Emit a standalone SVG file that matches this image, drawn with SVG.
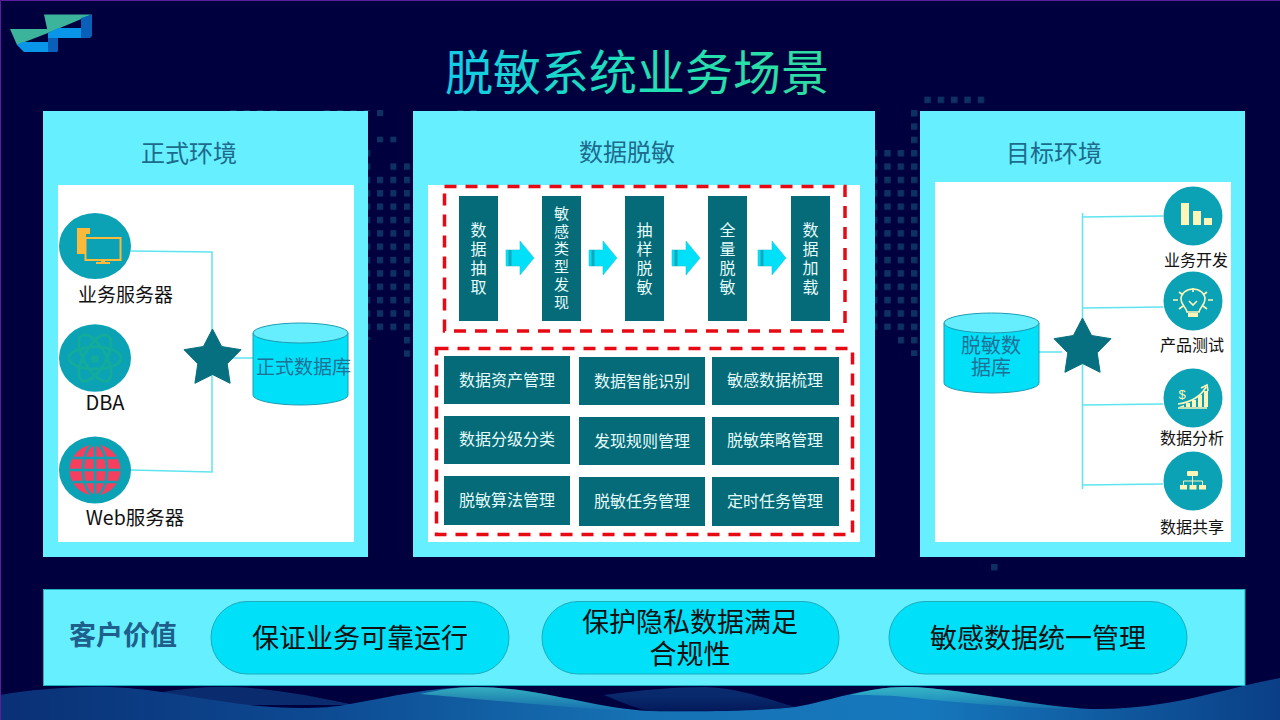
<svg xmlns="http://www.w3.org/2000/svg" width="1280" height="720" viewBox="0 0 1280 720">
<style>
text{font-family:"Noto Sans CJK SC","Liberation Sans",sans-serif;text-anchor:middle}
.panel{fill:#66f0ff}
.inner{fill:#fff}
.head{font-size:24px;fill:#1d6a8c}
.box{fill:#056b78}
.bt{font-size:16px;fill:#e4fbfb}
.vt{font-size:16px;fill:#e4fbfb;writing-mode:vertical-rl;letter-spacing:3px}
.dash{fill:none;stroke:#e60a14;stroke-width:3.5;stroke-dasharray:12 9}
.conn{fill:none;stroke:#5fe4ef;stroke-width:1.5}
.circ{fill:#0aa2b4}
.star{fill:#067080}
.cyl{fill:#00e0f8;stroke:#1c9cb0;stroke-width:1}
.cyltop{fill:#66eeff;stroke:#1c9cb0;stroke-width:1}
.dbt{font-size:19px;fill:#1f7096}
.lab{font-size:19px;fill:#111}
.lab2{font-size:16px;fill:#111}
.pill{fill:#00e0f8;stroke:#1cacbc;stroke-width:1}
.pt{font-size:27px;fill:#111}
.ic{fill:#fdf6b8}
.icl{fill:none;stroke:#fdf6b8;stroke-width:1.6}
</style>
<defs>
<linearGradient id="tg" gradientUnits="userSpaceOnUse" x1="445" y1="0" x2="830" y2="0"><stop offset="0" stop-color="#12cce8"/><stop offset=".5" stop-color="#1fe0b4"/><stop offset="1" stop-color="#30dca0"/></linearGradient>
<linearGradient id="w1" x1="0" y1="0" x2="1" y2="0"><stop offset="0" stop-color="#0a3076"/><stop offset=".25" stop-color="#0d4a92"/><stop offset=".5" stop-color="#1672b4"/><stop offset=".72" stop-color="#1678bc"/><stop offset="1" stop-color="#0a3f86"/></linearGradient>
<linearGradient id="w2" gradientUnits="userSpaceOnUse" x1="0" y1="686" x2="0" y2="712"><stop offset="0" stop-color="#3ec8c8" stop-opacity=".8"/><stop offset="1" stop-color="#3ec8c8" stop-opacity="0"/></linearGradient>
<linearGradient id="w3" gradientUnits="userSpaceOnUse" x1="0" y1="686" x2="0" y2="712"><stop offset="0" stop-color="#0a2c6e"/><stop offset="1" stop-color="#0c4a90" stop-opacity=".3"/></linearGradient>
<pattern id="dots" patternUnits="userSpaceOnUse" x="377" y="110" width="13.35" height="13.35"><rect width="6.4" height="6.4" fill="#0d3262"/></pattern>
<polygon id="st" points="0,-30 9.1,-12.5 28.5,-9.3 14.7,4.8 17.6,24.3 0,15.5 -17.6,24.3 -14.7,4.8 -28.5,-9.3 -9.1,-12.5" stroke="#067080" stroke-width="1" stroke-linejoin="round"/>
<polygon id="ar" points="0,9 14,9 14,0 28,17 14,34 14,25 0,25" fill="#00e0f8" stroke="#25c4d4" stroke-width=".6"/>
</defs>

<rect width="1280" height="720" fill="#00003f"/>

<g id="dot-grid" fill="url(#dots)">
<rect x="360" y="150" width="14" height="190"/>
<rect x="377" y="110" width="6.4" height="6.4"/>
<rect x="377" y="136" width="6.4" height="6.4"/>
<rect x="377" y="176" width="6.4" height="155"/>
<rect x="390" y="136" width="6.4" height="6.4"/>
<rect x="390" y="163" width="6.4" height="168"/>
<rect x="404" y="163" width="6.4" height="194"/>
<rect x="873" y="150" width="34" height="180"/>
<rect x="898" y="330" width="9" height="14"/>
<rect x="911" y="110" width="7" height="246"/>
<rect x="923" y="96" width="64" height="8"/>
<rect x="230" y="110" width="50" height="1"/>
<rect x="323" y="110" width="60" height="1"/>
<rect x="455" y="110" width="24" height="1"/>
<rect x="991" y="564" width="8" height="8"/>
</g>

<g id="waves">
<path d="M150 694C180 689 205 686 235 687C280 689 320 698 355 705H150Z" fill="#0a2c6e"/>
<path d="M0 695C30 690 70 686 110 687C170 689 230 708 300 708C320 708 335 707 350 704C390 697 430 687 475 687C540 687 590 708 650 711C700 712 760 711 795 707C830 701 865 687 905 687C960 687 1040 709 1101 709C1170 709 1230 687 1280 678V720H0Z" fill="url(#w1)"/>
<path d="M420 694C440 690 455 687 475 687C540 687 590 708 650 711C600 711 540 704 475 699C455 697 435 695 420 694ZM850 695C870 690 885 687 905 687C960 687 1040 709 1101 709C1040 710 960 703 905 697C885 695 865 695 850 695Z" fill="url(#w2)"/>
<path d="M604 695C640 690 675 687 705 687C740 688 770 700 795 707C750 712 700 712 650 711C635 708 620 702 604 695Z" fill="url(#w3)"/>
</g>

<g id="logo">
<polygon points="48,38 58,38 58,51 57,52 48,52" fill="#0a60b8"/>
<polygon points="44,14.5 92,14.5 48,33" fill="#3cb49c"/>
<polygon points="48,33 58,28 81,28 81,38 48,38" fill="#0a96e8"/>
<polygon points="81,18 92,14.5 92,36 90,38 81,38" fill="#0a60b8"/>
<polygon points="10,29 48,29 48,33 17,45" fill="#3cb49c"/>
<polygon points="17,45 22,42 48,42 48,52 24,52" fill="#0a96e8"/>
</g>

<text id="title" x="637" y="90" font-size="48" fill="url(#tg)">脱敏系统业务场景</text>

<g id="panel-source">
<rect class="panel" x="43" y="111" width="325" height="446"/>
<rect class="inner" x="58" y="185" width="296" height="357"/>
<text class="head" x="189" y="162">正式环境</text>
</g>
<g id="panel-mask">
<rect class="panel" x="413" y="111" width="462" height="446"/>
<rect class="inner" x="428" y="185" width="432" height="357"/>
<text class="head" x="627" y="161">数据脱敏</text>
</g>
<g id="panel-target">
<rect class="panel" x="920" y="111" width="325" height="446"/>
<rect class="inner" x="935" y="182" width="296" height="360"/>
<text class="head" x="1054" y="162">目标环境</text>
</g>

<g id="connectors">
<path class="conn" d="M131 251L212 252V340M131 470L212 472V370M232 358H253"/>
<path class="conn" d="M1039 352H1062M1082.500 213V489M1083 217L1163 216M1083 308L1163 307M1083 405L1163 404M1083 485L1163 484"/>
</g>

<g id="srv-business">
<ellipse class="circ" cx="95" cy="246" rx="36" ry="33"/>
<path d="M77 228H90V234H86V254H77Z" fill="#fdb93a"/>
<rect x="85.500" y="238" width="35" height="22" fill="#0aa2b4" stroke="#fdb93a" stroke-width="2"/>
<rect x="96" y="262" width="14" height="2" fill="#fdb93a"/><rect x="101" y="260" width="4" height="3" fill="#fdb93a"/>
<text class="lab" x="125.500" y="302">业务服务器</text>
</g>
<g id="srv-dba">
<ellipse class="circ" cx="95" cy="358" rx="36" ry="33.700"/>
<g fill="none" stroke="#12ab9c" stroke-width="3"><ellipse cx="95" cy="358" rx="26" ry="11"/><ellipse cx="95" cy="358" rx="26" ry="11" transform="rotate(60 95 358)"/><ellipse cx="95" cy="358" rx="26" ry="11" transform="rotate(120 95 358)"/></g>
<circle cx="95" cy="359" r="4" fill="#12ab9c"/>
<text class="lab" x="105" y="410" style="font-size:20px">DBA</text>
</g>
<g id="srv-web">
<ellipse class="circ" cx="95" cy="470" rx="36" ry="33.500"/>
<circle cx="95" cy="470" r="25.500" fill="#f4405e"/>
<g fill="none" stroke="#0aa2b4" stroke-width="2.400"><ellipse cx="95" cy="470" rx="12" ry="25.500"/><path d="M95 444V496M70 470H120M73 458H117M73 482H117"/></g>
<text class="lab" x="135" y="525" style="font-size:19.500px">Web服务器</text>
</g>

<use id="hub-source" href="#st" class="star" x="212.500" y="359"/>

<g id="db-source">
<path class="cyl" d="M253 333V395A47.500 10 0 0 0 348 395V333Z"/>
<ellipse class="cyltop" cx="300.500" cy="333" rx="47.500" ry="10"/>
<text class="dbt" x="303.500" y="374">正式数据库</text>
</g>

<g id="flow-1"><rect class="box" x="459" y="196" width="39" height="125"/><text class="vt" x="478.500" y="260">数据抽取</text></g>
<g id="flow-2"><rect class="box" x="542" y="196" width="39" height="125"/><text class="vt" x="561.500" y="259" style="font-size:15px;letter-spacing:2.800px">敏感类型发现</text></g>
<g id="flow-3"><rect class="box" x="625" y="196" width="39" height="125"/><text class="vt" x="644.500" y="260">抽样脱敏</text></g>
<g id="flow-4"><rect class="box" x="708" y="196" width="39" height="125"/><text class="vt" x="727.500" y="260">全量脱敏</text></g>
<g id="flow-5"><rect class="box" x="791" y="196" width="39" height="125"/><text class="vt" x="810.500" y="260">数据加载</text></g>

<g id="flow-arrows">
<use href="#ar" x="506" y="241"/><use href="#ar" x="589" y="241"/><use href="#ar" x="672" y="241"/><use href="#ar" x="758" y="241"/>
<path d="M510 250V266M593 250V266M676 250V266M762 250V266" stroke="#14a8bc" stroke-width="3" fill="none"/>
</g>

<rect id="frame-flow" class="dash" x="444.500" y="186.500" width="400.500" height="144.500"/>
<rect id="frame-func" class="dash" x="436.500" y="348.500" width="416" height="186"/>

<g id="f11"><rect class="box" x="444" y="356" width="126" height="48"/><text class="bt" x="507" y="386">数据资产管理</text></g>
<g id="f12"><rect class="box" x="579" y="357" width="126" height="48"/><text class="bt" x="642" y="387">数据智能识别</text></g>
<g id="f13"><rect class="box" x="712" y="357" width="127" height="48"/><text class="bt" x="775" y="386">敏感数据梳理</text></g>
<g id="f21"><rect class="box" x="444" y="416" width="126" height="48"/><text class="bt" x="507" y="445">数据分级分类</text></g>
<g id="f22"><rect class="box" x="579" y="417" width="126" height="48"/><text class="bt" x="642" y="447">发现规则管理</text></g>
<g id="f23"><rect class="box" x="712" y="417" width="127" height="48"/><text class="bt" x="775" y="446">脱敏策略管理</text></g>
<g id="f31"><rect class="box" x="444" y="476" width="126" height="49"/><text class="bt" x="507" y="506">脱敏算法管理</text></g>
<g id="f32"><rect class="box" x="579" y="477" width="126" height="49"/><text class="bt" x="642" y="507">脱敏任务管理</text></g>
<g id="f33"><rect class="box" x="712" y="477" width="127" height="49"/><text class="bt" x="775" y="507">定时任务管理</text></g>

<g id="db-target">
<path class="cyl" d="M944 323V383A47.500 10 0 0 0 1039 383V323Z"/>
<ellipse class="cyltop" cx="991.500" cy="323" rx="47.500" ry="10"/>
<text class="dbt" y="353" style="font-size:20px"><tspan x="991">脱敏数</tspan><tspan x="991" dy="22">据库</tspan></text>
</g>
<use id="hub-target" href="#st" class="star" x="1082.500" y="348"/>

<g id="app-dev">
<circle class="circ" cx="1193" cy="216" r="29.500"/>
<rect class="ic" x="1181" y="203" width="8" height="22"/><rect class="ic" x="1193" y="211" width="8" height="14"/><rect class="ic" x="1204" y="218" width="8" height="7"/>
<text class="lab2" x="1196" y="266">业务开发</text>
</g>
<g id="app-test">
<circle class="circ" cx="1193" cy="301" r="29.500"/>
<path class="icl" d="M1187 312C1186 307 1181 305 1181 299A12 10 0 0 1 1205 299C1205 305 1200 307 1199 312Z"/>
<rect class="ic" x="1188" y="313" width="10" height="4"/>
<path class="icl" d="M1193 288V292M1173 300H1178M1208 300H1213M1179 292L1183 295M1207 292L1203 295M1179 309L1183 306M1207 309L1203 306M1189 301L1193 305L1197 301"/>
<text class="lab2" x="1192" y="351">产品测试</text>
</g>
<g id="app-analysis">
<circle class="circ" cx="1193" cy="398" r="29.500"/>
<text x="1182" y="399" style="font-size:13px;fill:#fdf6b8;font-family:'Liberation Sans',sans-serif">$</text>
<path class="ic" d="M1179 407H1184V405L1179 407ZM1186 407V403H1190V407ZM1192 407V400H1196V407ZM1198 407V395H1202V407ZM1204 407V391H1208V407Z"/>
<path class="icl" d="M1178 404C1192 402 1201 396 1206 387M1201 388L1207 385L1208 391M1178 408H1207"/>
<text class="lab2" x="1192" y="444">数据分析</text>
</g>
<g id="app-share">
<circle class="circ" cx="1193" cy="481" r="29.500"/>
<rect class="ic" x="1187" y="471" width="11" height="5" rx="1"/>
<rect class="ic" x="1180" y="485" width="7" height="4.500"/><rect class="ic" x="1189.500" y="485" width="7" height="4.500"/><rect class="ic" x="1199" y="485" width="7" height="4.500"/>
<path d="M1192.500 476V485M1183.500 485V481H1202.500V485" fill="none" stroke="#fdf6b8" stroke-width="1"/>
<text class="lab2" x="1192" y="533">数据共享</text>
</g>

<g id="value-bar">
<rect x="43.500" y="589.500" width="1201.500" height="96" fill="#66f0ff" stroke="#1cb0c0" stroke-width="1"/>
<text x="123" y="645" style="font-size:27px;font-weight:700;fill:#1f5f8c">客户价值</text>
</g>
<g id="value-1"><rect class="pill" x="211" y="601.500" width="298" height="72.500" rx="36"/><text class="pt" x="360" y="648">保证业务可靠运行</text></g>
<g id="value-2"><rect class="pill" x="542" y="601.500" width="297" height="72.500" rx="36"/><text class="pt" y="632"><tspan x="690">保护隐私数据满足</tspan><tspan x="690" dy="32">合规性</tspan></text></g>
<g id="value-3"><rect class="pill" x="889" y="601.500" width="298" height="72.500" rx="36"/><text class="pt" x="1038" y="648">敏感数据统一管理</text></g>

<path id="slide-border" d="M.5 720V.5H1280" fill="none" stroke="#5a1f9a" stroke-width="1"/>
</svg>
